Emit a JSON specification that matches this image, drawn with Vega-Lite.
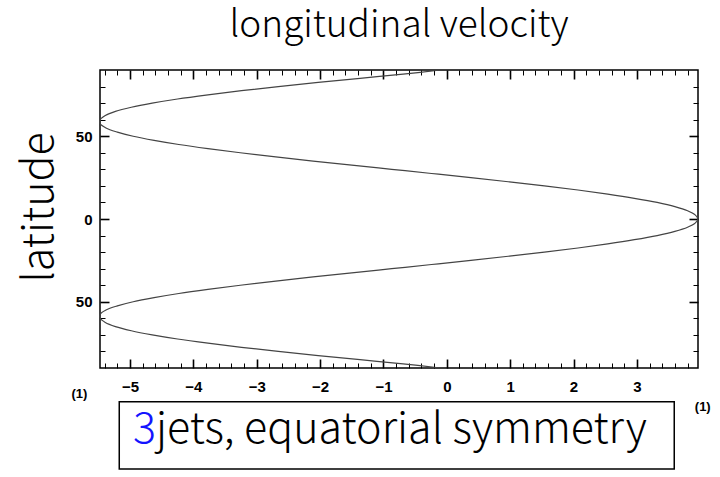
{
  "$schema": "https://vega.github.io/schema/vega-lite/v6.json",
  "autosize": {"type": "none"},
  "width": 598,
  "height": 298,
  "padding": {"left": 100, "top": 70, "right": 22, "bottom": 109},
  "background": "white",
  "config": {
    "view": {"stroke": "black", "strokeWidth": 1.5},
    "font": "Noto Sans CJK JP"
  },
  "title": {
    "text": "longitudinal velocity",
    "font": "Noto Sans CJK JP",
    "fontSize": 37,
    "fontWeight": 300,
    "color": "black",
    "anchor": "middle",
    "offset": 23
  },
  "datasets": {
    "profile": [
      {"lat": -90, "u": -0.1}, {"lat": -87.5, "u": -0.69}, {"lat": -85, "u": -1.37}, {"lat": -82.5, "u": -2.03},
      {"lat": -80, "u": -2.66}, {"lat": -77.5, "u": -3.24}, {"lat": -75, "u": -3.77}, {"lat": -72.5, "u": -4.25},
      {"lat": -70, "u": -4.65}, {"lat": -67.5, "u": -4.98}, {"lat": -65, "u": -5.23}, {"lat": -62.5, "u": -5.39},
      {"lat": -60, "u": -5.47}, {"lat": -57.5, "u": -5.47}, {"lat": -55, "u": -5.38}, {"lat": -52.5, "u": -5.2},
      {"lat": -50, "u": -4.95}, {"lat": -47.5, "u": -4.62}, {"lat": -45, "u": -4.23}, {"lat": -42.5, "u": -3.77},
      {"lat": -40, "u": -3.26}, {"lat": -37.5, "u": -2.7}, {"lat": -35, "u": -2.11}, {"lat": -32.5, "u": -1.5},
      {"lat": -30, "u": -0.87}, {"lat": -27.5, "u": -0.24}, {"lat": -25, "u": 0.38}, {"lat": -22.5, "u": 0.97},
      {"lat": -20, "u": 1.54}, {"lat": -17.5, "u": 2.07}, {"lat": -15, "u": 2.54}, {"lat": -12.5, "u": 2.96},
      {"lat": -10, "u": 3.32}, {"lat": -7.5, "u": 3.6}, {"lat": -5, "u": 3.8}, {"lat": -2.5, "u": 3.92},
      {"lat": 0, "u": 3.965},
      {"lat": 2.5, "u": 3.92}, {"lat": 5, "u": 3.8}, {"lat": 7.5, "u": 3.6}, {"lat": 10, "u": 3.32},
      {"lat": 12.5, "u": 2.96}, {"lat": 15, "u": 2.54}, {"lat": 17.5, "u": 2.07}, {"lat": 20, "u": 1.54},
      {"lat": 22.5, "u": 0.97}, {"lat": 25, "u": 0.38}, {"lat": 27.5, "u": -0.24}, {"lat": 30, "u": -0.87},
      {"lat": 32.5, "u": -1.5}, {"lat": 35, "u": -2.11}, {"lat": 37.5, "u": -2.7}, {"lat": 40, "u": -3.26},
      {"lat": 42.5, "u": -3.77}, {"lat": 45, "u": -4.23}, {"lat": 47.5, "u": -4.62}, {"lat": 50, "u": -4.95},
      {"lat": 52.5, "u": -5.2}, {"lat": 55, "u": -5.38}, {"lat": 57.5, "u": -5.47}, {"lat": 60, "u": -5.47},
      {"lat": 62.5, "u": -5.39}, {"lat": 65, "u": -5.23}, {"lat": 67.5, "u": -4.98}, {"lat": 70, "u": -4.65},
      {"lat": 72.5, "u": -4.25}, {"lat": 75, "u": -3.77}, {"lat": 77.5, "u": -3.24}, {"lat": 80, "u": -2.66},
      {"lat": 82.5, "u": -2.03}, {"lat": 85, "u": -1.37}, {"lat": 87.5, "u": -0.69}, {"lat": 90, "u": -0.1}
    ]
  },
  "resolve": {"axis": {"x": "independent", "y": "independent"}},
  "layer": [
    {
      "data": {"name": "profile"},
      "mark": {"type": "line", "interpolate": "catmull-rom", "color": "#444444", "strokeWidth": 1.2},
      "encoding": {
        "x": {
          "field": "u", "type": "quantitative",
          "scale": {"domain": [-5.474, 3.965], "nice": false, "zero": false},
          "axis": {
            "orient": "bottom", "values": [-5, -4, -3, -2, -1, 0, 1, 2, 3],
            "tickSize": -9, "tickWidth": 1.6, "tickColor": "black", "domain": false, "grid": false,
            "labelFont": "Liberation Sans", "labelFontWeight": "bold", "labelFontSize": 15, "labelColor": "black",
            "labelPadding": 20, "title": null
          }
        },
        "y": {
          "field": "lat", "type": "quantitative",
          "scale": {"domain": [-90, 90], "nice": false, "zero": false},
          "axis": {
            "orient": "left", "values": [-50, 0, 50],
            "labelExpr": "'' + abs(datum.value)",
            "tickSize": -9, "tickWidth": 1.6, "tickColor": "black", "domain": false, "grid": false,
            "labelFont": "Liberation Sans", "labelFontWeight": "bold", "labelFontSize": 15, "labelColor": "black",
            "labelPadding": 17,
            "title": "latitude", "titleFont": "Noto Sans CJK JP", "titleFontSize": 43, "titleFontWeight": 300,
            "titleColor": "black", "titlePadding": 14, "titleY": 137
          }
        },
        "order": {"field": "lat", "type": "quantitative"}
      }
    },
    {
      "data": {"name": "profile"},
      "mark": {"type": "line", "strokeOpacity": 0},
      "encoding": {
        "x": {
          "field": "u", "type": "quantitative",
          "scale": {"domain": [-5.474, 3.965], "nice": false, "zero": false},
          "axis": {
            "orient": "bottom",
            "values": [-5.4, -5.2, -4.8, -4.6, -4.4, -4.2, -3.8, -3.6, -3.4, -3.2, -2.8, -2.6, -2.4, -2.2, -1.8, -1.6, -1.4, -1.2, -0.8, -0.6, -0.4, -0.2, 0.2, 0.4, 0.6, 0.8, 1.2, 1.4, 1.6, 1.8, 2.2, 2.4, 2.6, 2.8, 3.2, 3.4, 3.6, 3.8],
            "tickSize": -5, "tickWidth": 1, "tickColor": "black", "domain": false, "grid": false, "labels": false, "title": null
          }
        },
        "y": {
          "field": "lat", "type": "quantitative",
          "scale": {"domain": [-90, 90], "nice": false, "zero": false},
          "axis": {
            "orient": "left", "values": [-80, -70, -60, -40, -30, -20, -10, 10, 20, 30, 40, 60, 70, 80],
            "tickSize": -5, "tickWidth": 1, "tickColor": "black", "domain": false, "grid": false, "labels": false, "title": null
          }
        },
        "order": {"field": "lat", "type": "quantitative"}
      }
    },
    {
      "data": {"name": "profile"},
      "mark": {"type": "line", "strokeOpacity": 0},
      "encoding": {
        "x": {
          "field": "u", "type": "quantitative",
          "scale": {"domain": [-5.474, 3.965], "nice": false, "zero": false},
          "axis": {
            "orient": "top", "values": [-5, -4, -3, -2, -1, 0, 1, 2, 3],
            "tickSize": -9, "tickWidth": 1.6, "tickColor": "black", "domain": false, "grid": false, "labels": false, "title": null
          }
        },
        "y": {
          "field": "lat", "type": "quantitative",
          "scale": {"domain": [-90, 90], "nice": false, "zero": false},
          "axis": {
            "orient": "right", "values": [-50, 0, 50],
            "tickSize": -9, "tickWidth": 1.6, "tickColor": "black", "domain": false, "grid": false, "labels": false, "title": null
          }
        },
        "order": {"field": "lat", "type": "quantitative"}
      }
    },
    {
      "data": {"name": "profile"},
      "mark": {"type": "line", "strokeOpacity": 0},
      "encoding": {
        "x": {
          "field": "u", "type": "quantitative",
          "scale": {"domain": [-5.474, 3.965], "nice": false, "zero": false},
          "axis": {
            "orient": "top",
            "values": [-5.4, -5.2, -4.8, -4.6, -4.4, -4.2, -3.8, -3.6, -3.4, -3.2, -2.8, -2.6, -2.4, -2.2, -1.8, -1.6, -1.4, -1.2, -0.8, -0.6, -0.4, -0.2, 0.2, 0.4, 0.6, 0.8, 1.2, 1.4, 1.6, 1.8, 2.2, 2.4, 2.6, 2.8, 3.2, 3.4, 3.6, 3.8],
            "tickSize": -5, "tickWidth": 1, "tickColor": "black", "domain": false, "grid": false, "labels": false, "title": null
          }
        },
        "y": {
          "field": "lat", "type": "quantitative",
          "scale": {"domain": [-90, 90], "nice": false, "zero": false},
          "axis": {
            "orient": "right", "values": [-80, -70, -60, -40, -30, -20, -10, 10, 20, 30, 40, 60, 70, 80],
            "tickSize": -5, "tickWidth": 1, "tickColor": "black", "domain": false, "grid": false, "labels": false, "title": null
          }
        },
        "order": {"field": "lat", "type": "quantitative"}
      }
    },
    {
      "data": {"values": [{"caption": "box"}]},
      "mark": {"type": "rect", "fill": "white", "stroke": "black", "strokeWidth": 1.5},
      "encoding": {
        "x": {"datum": -5.17, "type": "quantitative", "scale": {"domain": [-5.474, 3.965], "nice": false, "zero": false}, "axis": null},
        "x2": {"datum": 3.59},
        "y": {"datum": -110.4, "type": "quantitative", "scale": {"domain": [-90, 90], "nice": false, "zero": false}, "axis": null},
        "y2": {"datum": -151}
      }
    },
    {
      "data": {"values": [{"label": "3"}]},
      "mark": {"type": "text", "align": "right", "baseline": "alphabetic", "font": "Noto Sans CJK JP", "fontSize": 43, "fontWeight": 300, "color": "#1414ff"},
      "encoding": {
        "x": {"datum": -4.59, "type": "quantitative", "scale": {"domain": [-5.474, 3.965], "nice": false, "zero": false}, "axis": null},
        "y": {"datum": -135.5, "type": "quantitative", "scale": {"domain": [-90, 90], "nice": false, "zero": false}, "axis": null},
        "text": {"field": "label"}
      }
    },
    {
      "data": {"values": [{"label": "jets, equatorial symmetry"}]},
      "mark": {"type": "text", "align": "left", "baseline": "alphabetic", "font": "Noto Sans CJK JP", "fontSize": 43, "fontWeight": 300, "color": "black"},
      "encoding": {
        "x": {"datum": -4.59, "type": "quantitative", "scale": {"domain": [-5.474, 3.965], "nice": false, "zero": false}, "axis": null},
        "y": {"datum": -135.5, "type": "quantitative", "scale": {"domain": [-90, 90], "nice": false, "zero": false}, "axis": null},
        "text": {"field": "label"}
      }
    },
    {
      "data": {"values": [{"label": "(1)"}]},
      "mark": {"type": "text", "align": "center", "baseline": "middle", "font": "Liberation Sans", "fontWeight": "bold", "fontSize": 13, "color": "black"},
      "encoding": {
        "x": {"datum": -5.8, "type": "quantitative", "scale": {"domain": [-5.474, 3.965], "nice": false, "zero": false}, "axis": null},
        "y": {"datum": -105.7, "type": "quantitative", "scale": {"domain": [-90, 90], "nice": false, "zero": false}, "axis": null},
        "text": {"field": "label"}
      }
    },
    {
      "data": {"values": [{"label": "(1)"}]},
      "mark": {"type": "text", "align": "center", "baseline": "middle", "font": "Liberation Sans", "fontWeight": "bold", "fontSize": 13, "color": "black"},
      "encoding": {
        "x": {"datum": 4.04, "type": "quantitative", "scale": {"domain": [-5.474, 3.965], "nice": false, "zero": false}, "axis": null},
        "y": {"datum": -113.6, "type": "quantitative", "scale": {"domain": [-90, 90], "nice": false, "zero": false}, "axis": null},
        "text": {"field": "label"}
      }
    }
  ]
}
